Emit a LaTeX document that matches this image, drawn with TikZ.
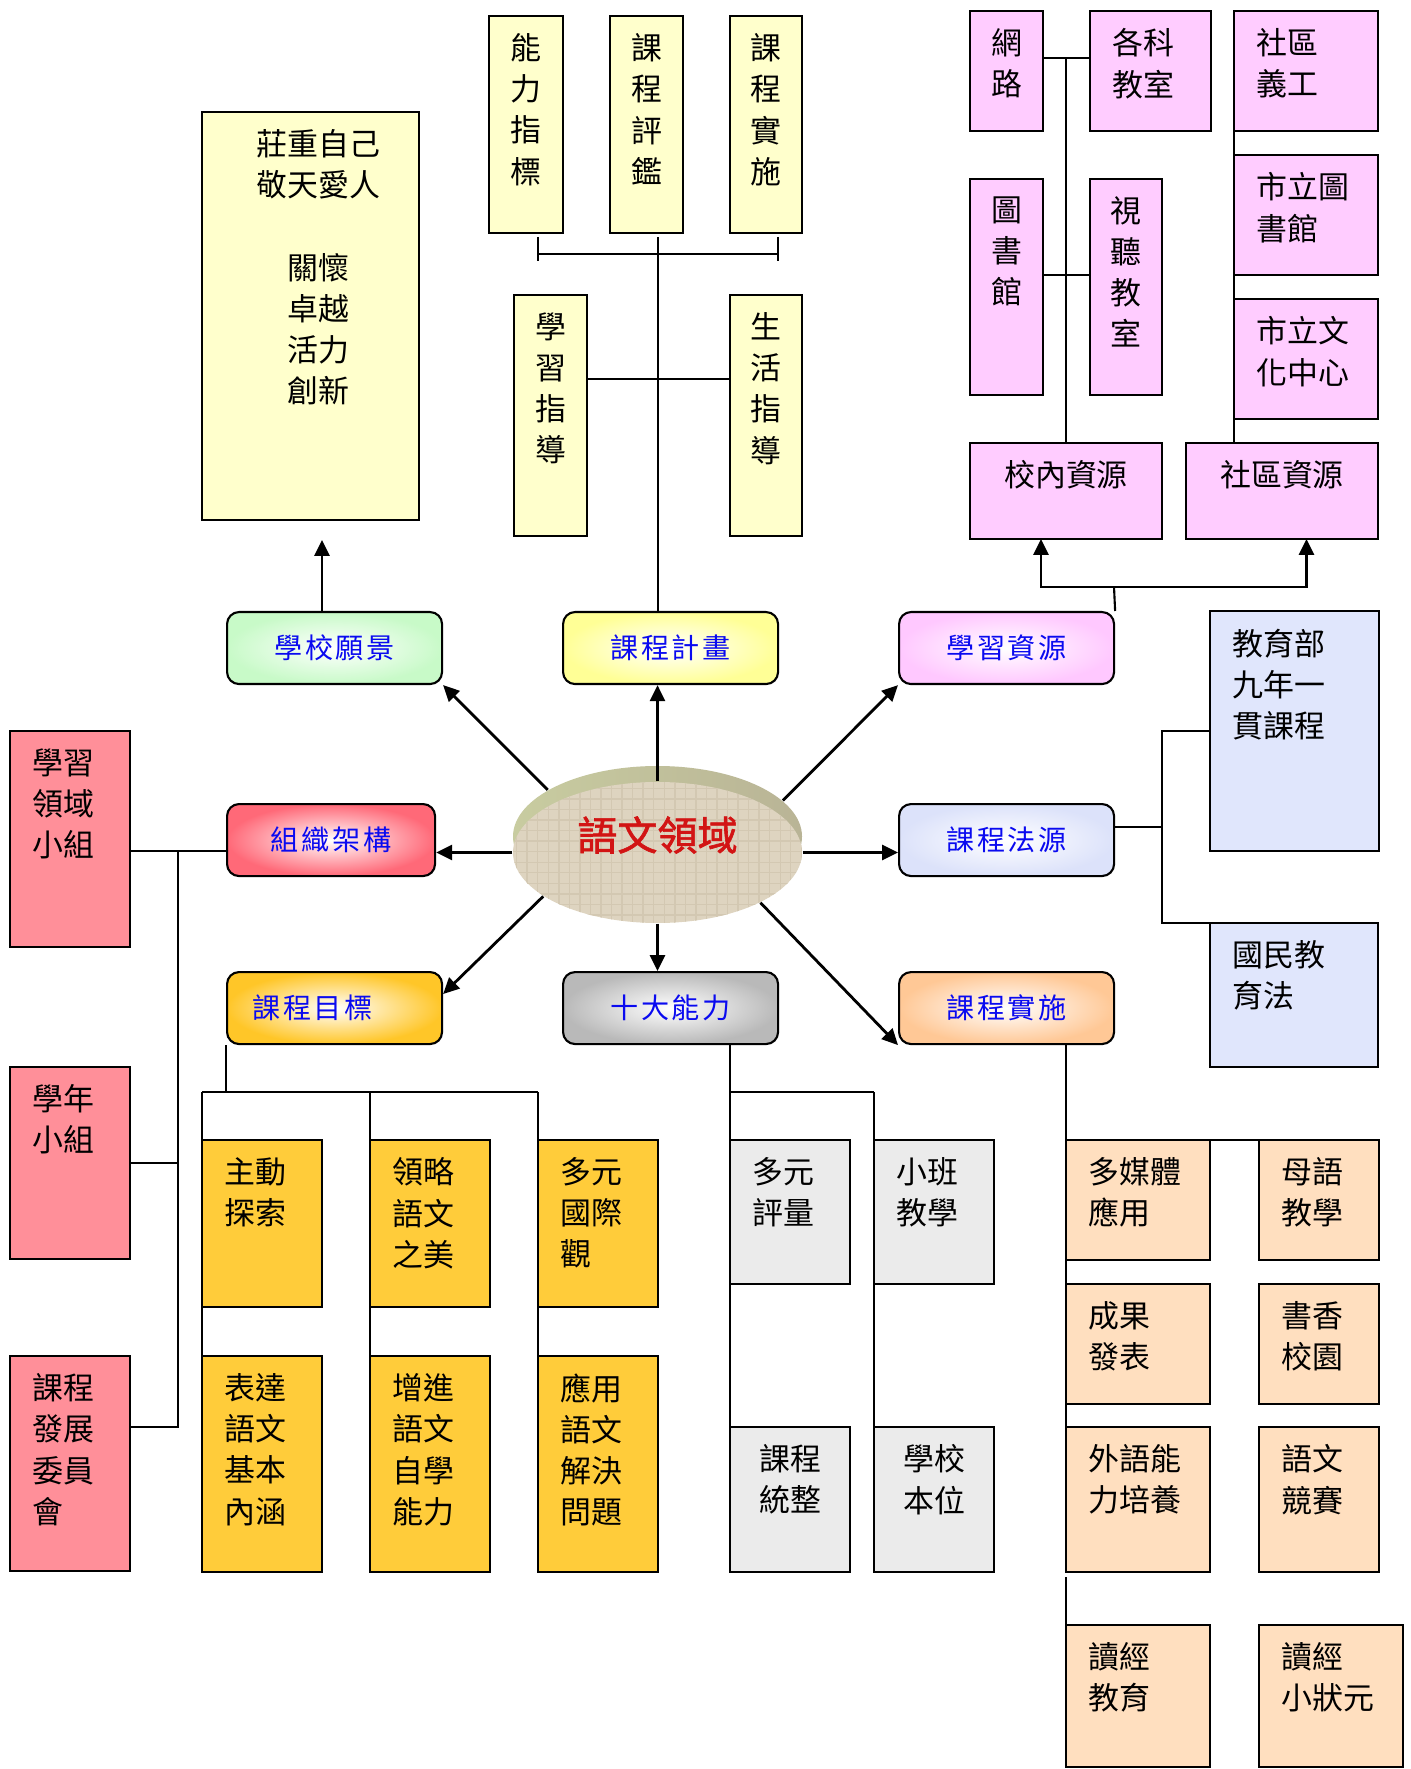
\documentclass[tikz,border=0pt]{standalone}
\usepackage{fontspec}
\newfontfamily\cjk{Noto Sans CJK TC}
\newfontfamily\cjkhub[LetterSpace=10]{Noto Sans CJK TC}
\newfontfamily\cjkbold[FakeBold=1.6]{Noto Sans CJK TC}
\usetikzlibrary{positioning}
\usetikzlibrary{shapes.geometric}
\usetikzlibrary{arrows.meta}
\usetikzlibrary{patterns}

\definecolor{vyel}{RGB}{255,255,204}
\definecolor{pnk}{RGB}{255,204,255}
\definecolor{rosebox}{RGB}{255,143,153}
\definecolor{lav}{RGB}{224,230,252}
\definecolor{goldbox}{RGB}{255,204,58}
\definecolor{gbox}{RGB}{235,235,235}
\definecolor{peach}{RGB}{255,223,191}
\definecolor{hgreen}{RGB}{200,250,200}
\definecolor{hyellow}{RGB}{255,255,150}
\definecolor{hpink}{RGB}{255,200,255}
\definecolor{hred}{RGB}{255,105,120}
\definecolor{hlav}{RGB}{220,226,250}
\definecolor{hgold}{RGB}{255,198,40}
\definecolor{hgrey}{RGB}{185,185,185}
\definecolor{hpeach}{RGB}{255,200,150}
\definecolor{hubblue}{RGB}{10,10,240}
\definecolor{linen}{RGB}{222,212,192}
\definecolor{linend}{RGB}{211,200,178}
\definecolor{rimL}{RGB}{200,204,160}
\definecolor{rimM}{RGB}{168,165,135}
\definecolor{rimR}{RGB}{185,180,150}
\definecolor{mainred}{RGB}{210,20,20}

\begin{document}
\begin{tikzpicture}[x=0.1mm, y=-0.1mm,
    every node/.style={font=\cjk\fontsize{8.8pt}{11.7pt}\selectfont},
    bx/.style={draw, line width=0.6pt, inner sep=0pt, outer sep=0pt, anchor=north west},
    sz/.style 2 args={minimum width=#1*0.1mm, minimum height=#2*0.1mm},
    tl/.style={label={[anchor=north west, align=left, inner xsep=2.2mm, inner ysep=1.7mm]north west:#1}},
    tc/.style={label={[anchor=north, align=center, inner xsep=0mm, inner ysep=1.7mm]north:#1}},
    hub/.style={draw, line width=0.6pt, rounded corners=1.2mm, inner color=white, outer color=#1,
        minimum width=21.5mm, minimum height=7.2mm, inner sep=0pt, anchor=north west,
        font=\cjkhub\fontsize{8pt}{10pt}\selectfont, text=hubblue},
    ln/.style={line width=0.6pt},
    arr/.style={line width=0.8pt, -{Triangle[length=1.6mm, width=1.5mm]}}]

    \path[fill=white, use as bounding box] (0,0) rectangle (1410,1769);

    % centre
    \node[ellipse, minimum width=28.9mm, minimum height=14.1mm, inner sep=0pt,
        left color=rimL, middle color=rimM, right color=rimR] (rim) at (657.5,836.5) {};
    \node[ellipse, minimum width=28.9mm, minimum height=14.1mm, inner sep=0pt, fill=linen,
        postaction={pattern=grid, pattern color=linend}] (core) at (657.5,852.5) {};
    \node[font=\cjkbold\fontsize{11.4pt}{13pt}\selectfont, text=mainred] (title) at (657.5,835) {語文領域};

    % hubs
    \node[hub=hgreen] (vis) at (226,611) {學校願景};
    \node[hub=hyellow] (plan) at (562,611) {課程計畫};
    \node[hub=hpink] (res) at (898,611) {學習資源};
    \node[hub=hred, minimum width=20.8mm] (org) at (226,803) {組織架構};
    \node[hub=hlav] (law) at (898,803) {課程法源};
    \node[hub=hgold] (goal) at (226,971) {\kern-4.4mm課程目標};
    \node[hub=hgrey] (ten) at (562,971) {十大能力};
    \node[hub=hpeach] (impl) at (898,971) {課程實施};

    \draw[arr] (rim.157) -- (vis.south east);
    \draw[arr] (core.north) -- (core.north |- plan.south);
    \draw[arr] (rim.16) -- (res.south west);
    \draw[arr] (core.west) -- (core.west -| org.east);
    \draw[arr] (core.east) -- (core.east -| law.west);
    \draw[arr] (core.201) -- ([yshift=1.4mm]goal.east);
    \draw[arr] (core.south) -- (core.south |- ten.north);
    \draw[arr] (core.334) -- (impl.south west);

    % school vision
    \node[bx, fill=vyel, sz={217}{408},
        label={[anchor=north, align=center, inner ysep=1.7mm, xshift=0.8mm]north:莊重自己\\敬天愛人\\[11.7pt]關懷\\卓越\\活力\\創新}] (vision) at (202,112) {};
    \coordinate (vtip) at (322,540);
    \draw[arr] (vis.north -| vtip) -- (vtip);

    % curriculum plan
    \node[bx, fill=vyel, sz={74}{217}, tc={能\\力\\指\\標}] (abil) at (489,16) {};
    \node[bx, fill=vyel, sz={73}{217}, tc={課\\程\\評\\鑑}] (eval) at (610,16) {};
    \node[bx, fill=vyel, sz={72}{217}, tc={課\\程\\實\\施}] (exec) at (730,16) {};
    \node[bx, fill=vyel, sz={73}{241}, tc={學\\習\\指\\導}] (learn) at (514,295) {};
    \node[bx, fill=vyel, sz={72}{241}, tc={生\\活\\指\\導}] (life) at (730,295) {};
    \coordinate (pj) at (658,237);
    \coordinate (lj) at (658,379);
    \coordinate (b1) at (538,254);
    \coordinate (b2) at (778,254);
    \draw[ln] (plan.north -| pj) -- (pj);
    \draw[ln] (b1) -- (b2);
    \draw[ln] ([yshift=1.7mm]b1) -- ([yshift=-0.7mm]b1);
    \draw[ln] ([yshift=1.7mm]b2) -- ([yshift=-0.7mm]b2);
    \draw[ln] (learn.east |- lj) -- (life.west |- lj);

    % learning resources
    \node[bx, fill=pnk, sz={73}{120}, tc={網\\路}] (net) at (970,11) {};
    \node[bx, fill=pnk, sz={121}{120}, tl={各科\\教室}] (subj) at (1090,11) {};
    \node[bx, fill=pnk, sz={73}{216}, tc={圖\\書\\館}] (libs) at (970,179) {};
    \node[bx, fill=pnk, sz={72}{216}, tc={視\\聽\\教\\室}] (av) at (1090,179) {};
    \node[bx, fill=pnk, sz={192}{96}, tc={校內資源}] (inres) at (970,443) {};
    \node[bx, fill=pnk, sz={192}{96}, tc={社區資源}] (comres) at (1186,443) {};
    \node[bx, fill=pnk, sz={144}{120}, tl={社區\\義工}] (vol) at (1234,11) {};
    \node[bx, fill=pnk, sz={144}{120}, tl={市立圖\\書館}] (clib) at (1234,155) {};
    \node[bx, fill=pnk, sz={144}{120}, tl={市立文\\化中心}] (ccul) at (1234,299) {};
    \coordinate (ij) at (1066,58);
    \coordinate (ij2) at (1066,275);
    \draw[ln] (inres.north) -- (ij);
    \draw[ln] (net.east |- ij) -- (subj.west |- ij);
    \draw[ln] (libs.east |- ij2) -- (av.west |- ij2);
    \draw[ln] (comres.north -| vol.west) -- (vol.south west);
    \coordinate (rj) at (1114,587);
    \draw[ln] (res.north east) -- (rj);
    \draw[arr] (rj) -| ([xshift=-2.5mm]inres.south);
    \draw[arr] (rj) -| ([xshift=2.45mm]comres.south);

    % organisation
    \node[bx, fill=rosebox, sz={120}{216}, tl={學習\\領域\\小組}] (grp1) at (10,731) {};
    \node[bx, fill=rosebox, sz={120}{192}, tl={學年\\小組}] (grp2) at (10,1067) {};
    \node[bx, fill=rosebox, sz={120}{215}, tl={課程\\發展\\委員\\會}] (grp3) at (10,1356) {};
    \coordinate (oj) at (178,851);
    \coordinate (oj2) at (178,1163);
    \coordinate (oj3) at (178,1427);
    \draw[ln] (grp1.east |- oj) -- (org.west |- oj);
    \draw[ln] (oj) -- (oj3) -- (grp3.east |- oj3);
    \draw[ln] (oj2) -- (grp2.east |- oj2);

    % curriculum law
    \node[bx, fill=lav, sz={169}{240}, tl={教育部\\九年一\\貫課程}] (moe) at (1210,611) {};
    \node[bx, fill=lav, sz={168}{144}, tl={國民教\\育法}] (act) at (1210,923) {};
    \coordinate (fj) at (1162,827);
    \coordinate (fj2) at (1162,731);
    \coordinate (fj3) at (1162,923);
    \draw[ln] (law.east |- fj) -- (fj);
    \draw[ln] (moe.west |- fj2) -- (fj2) -- (fj3) -- (act.north west);

    % curriculum goals
    \node[bx, fill=goldbox, sz={120}{167}, tl={主動\\探索}] (gA) at (202,1140) {};
    \node[bx, fill=goldbox, sz={120}{167}, tl={領略\\語文\\之美}] (gB) at (370,1140) {};
    \node[bx, fill=goldbox, sz={120}{167}, tl={多元\\國際\\觀}] (gC) at (538,1140) {};
    \node[bx, fill=goldbox, sz={120}{216}, tl={表達\\語文\\基本\\內涵}] (gD) at (202,1356) {};
    \node[bx, fill=goldbox, sz={120}{216}, tl={增進\\語文\\自學\\能力}] (gE) at (370,1356) {};
    \node[bx, fill=goldbox, sz={120}{216}, tl={應用\\語文\\解決\\問題}] (gF) at (538,1356) {};
    \coordinate (gj) at (226,1092);
    \draw[ln] (goal.south west) -- (gj);
    \draw[ln] (gA.north west |- gj) -- (gC.north west |- gj);
    \draw[ln] (gA.north west |- gj) -- (gD.north west);
    \draw[ln] (gB.north west |- gj) -- (gE.north west);
    \draw[ln] (gC.north west |- gj) -- (gF.north west);

    % ten abilities
    \node[bx, fill=gbox, sz={120}{144}, tl={多元\\評量}] (tA) at (730,1140) {};
    \node[bx, fill=gbox, sz={120}{144}, tl={小班\\教學}] (tB) at (874,1140) {};
    \node[bx, fill=gbox, sz={120}{145}, tc={課程\\統整}] (tC) at (730,1427) {};
    \node[bx, fill=gbox, sz={120}{145}, tc={學校\\本位}] (tD) at (874,1427) {};
    \coordinate (tj) at (730,1092);
    \draw[ln] (ten.south -| tj) -- (tj) -- (tB.north west |- tj);
    \draw[ln] (tj) -- (tC.north west);
    \draw[ln] (tB.north west |- tj) -- (tD.north west);

    % implementation
    \node[bx, fill=peach, sz={144}{120}, tl={多媒體\\應用}] (iA) at (1066,1140) {};
    \node[bx, fill=peach, sz={120}{120}, tl={母語\\教學}] (iB) at (1259,1140) {};
    \node[bx, fill=peach, sz={144}{120}, tl={成果\\發表}] (iC) at (1066,1284) {};
    \node[bx, fill=peach, sz={120}{120}, tl={書香\\校園}] (iD) at (1259,1284) {};
    \node[bx, fill=peach, sz={144}{145}, tl={外語能\\力培養}] (iE) at (1066,1427) {};
    \node[bx, fill=peach, sz={120}{145}, tl={語文\\競賽}] (iF) at (1259,1427) {};
    \node[bx, fill=peach, sz={144}{142}, tl={讀經\\教育}] (iG) at (1066,1625) {};
    \node[bx, fill=peach, sz={144}{142}, tl={讀經\\小狀元}] (iH) at (1259,1625) {};
    \draw[ln] (impl.south -| iA.north west) -- (iE.south west);
    \draw[ln] ([yshift=-0.5mm]iE.south west) -- (iG.north west);
    \draw[ln] (iA.north east) -- (iB.north west);
\end{tikzpicture}
\end{document}
